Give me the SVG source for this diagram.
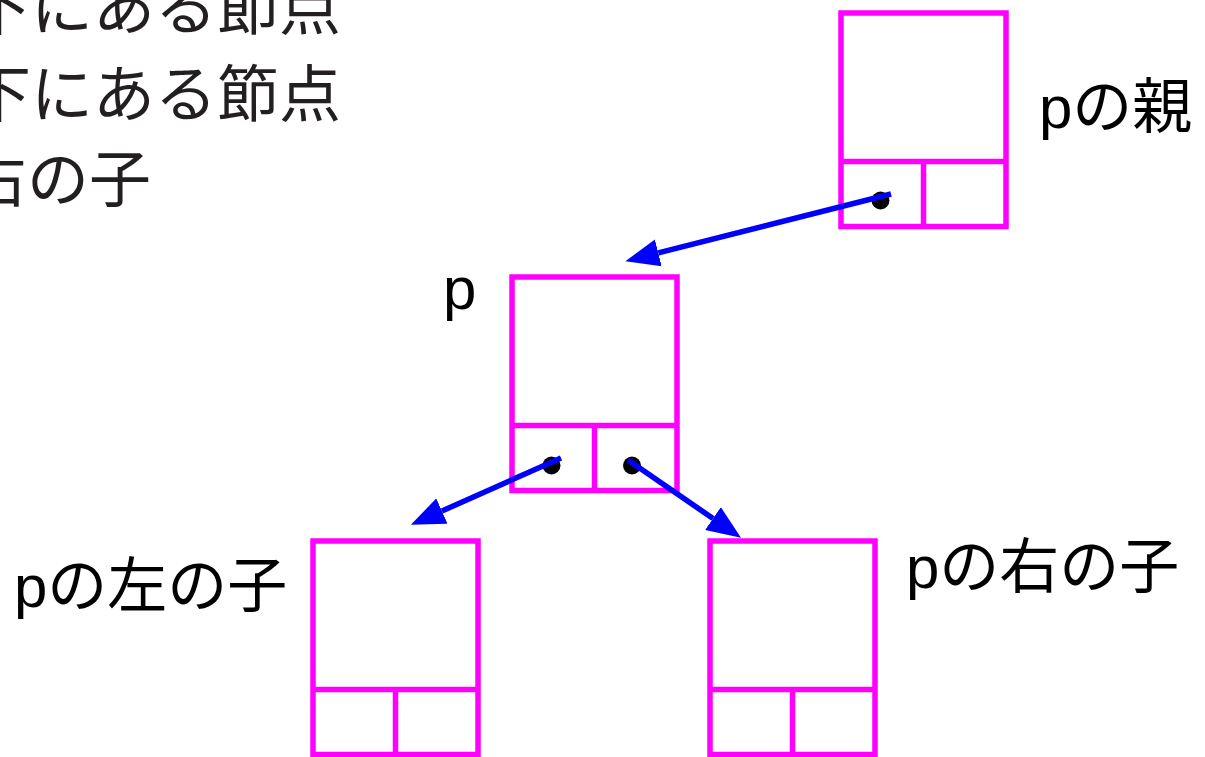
<svg xmlns="http://www.w3.org/2000/svg" width="1205" height="757" viewBox="0 0 1205 757">
  <style>
    .cell { fill: none; stroke: #ff00ff; stroke-width: 5.5; }
    .label { font-family: "Liberation Sans", "Noto Sans CJK JP", sans-serif; font-size: 60px; fill: #000; }
    .note { font-family: "Noto Sans CJK JP", sans-serif; font-size: 62px; fill: #231f20; }
    .link { stroke: #0000ff; stroke-width: 5.5; fill: none; marker-end: url(#head); }
    .ptr { fill: #000; }
  </style>
  <defs>
    <marker id="head" markerUnits="userSpaceOnUse" markerWidth="34" markerHeight="28" refX="0" refY="13" orient="auto" viewBox="0 0 32 26">
      <path d="M0,0 L32,13 L0,26 z" fill="#0000ff"/>
    </marker>
    <!-- tree node: data cell on top, left/right pointer cells below -->
    <g id="node">
      <rect class="cell" x="0" y="0" width="165" height="213.5"/>
      <line class="cell" x1="0" y1="148.5" x2="165" y2="148.5"/>
      <line class="cell" x1="82.5" y1="148.5" x2="82.5" y2="213.5"/>
    </g>
  </defs>

  <rect width="1205" height="757" fill="#fff"/>

  <!-- description text -->
  <g id="notes">
    <text class="note" x="341" y="30" text-anchor="end">下にある節点</text>
    <text class="note" x="341" y="117" text-anchor="end">下にある節点</text>
    <text class="note" x="151" y="202" text-anchor="end">右の子</text>
  </g>

  <g id="parent">
    <use href="#node" x="841" y="13"/>
    <text class="label" x="1039" y="128">pの親</text>
  </g>

  <g id="p">
    <use href="#node" x="512" y="277"/>
    <text class="label" x="443" y="309">p</text>
  </g>

  <g id="left-child">
    <use href="#node" x="313" y="541"/>
    <text class="label" x="14" y="607">pの左の子</text>
  </g>

  <g id="right-child">
    <use href="#node" x="710" y="541"/>
    <text class="label" x="906" y="588">pの右の子</text>
  </g>

  <g id="connectors">
    <circle class="ptr" cx="880.5" cy="200.5" r="9"/>
    <circle class="ptr" cx="551.5" cy="465.5" r="9"/>
    <circle class="ptr" cx="632" cy="465.5" r="9"/>
    <line class="link" x1="891" y1="194" x2="658.3" y2="252.9"/>
    <line class="link" x1="561" y1="458" x2="441.9" y2="511"/>
    <line class="link" x1="628" y1="460" x2="713" y2="518.5"/>
  </g>
</svg>
